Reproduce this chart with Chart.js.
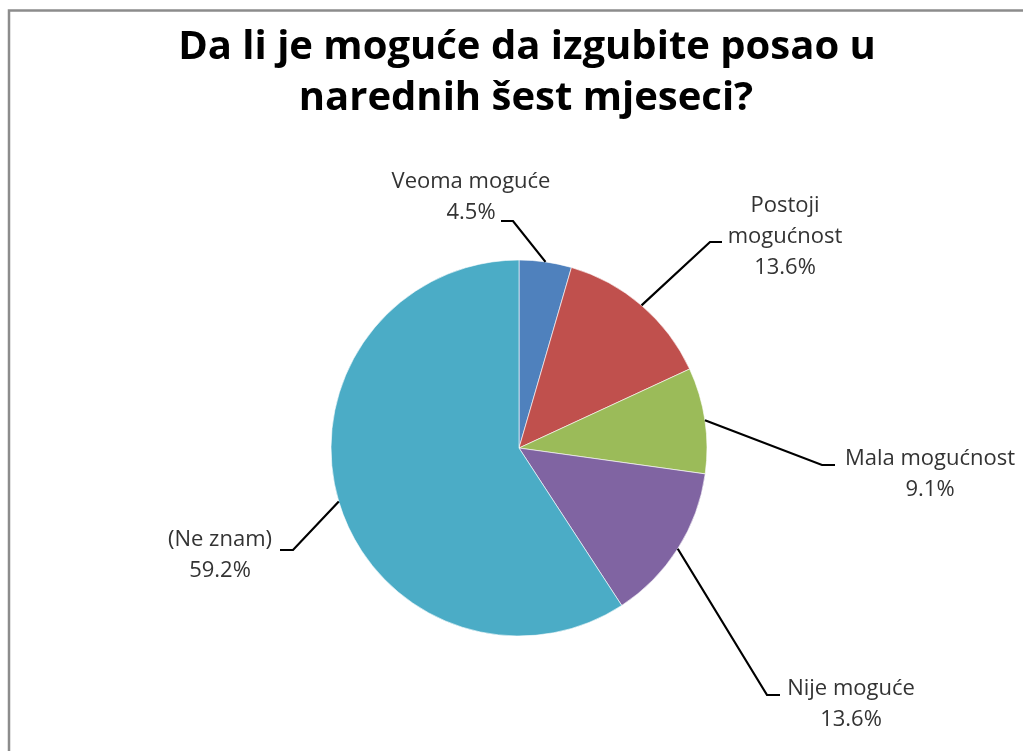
<!DOCTYPE html>
<html>
<head>
<meta charset="utf-8">
<title>Da li je moguće da izgubite posao u narednih šest mjeseci?</title>
<script src="https://cdn.jsdelivr.net/npm/chart.js@4.4.1/dist/chart.umd.min.js"></script>
<style>
    html, body { margin: 0; padding: 0; background: #ffffff; overflow: hidden; }
    canvas { display: block; }
</style>
</head>
<body>
<canvas id="pieChart" width="1023" height="751"></canvas>
<script>
// Chart data
const titleLines = ['Da li je moguće da izgubite posao u', 'narednih šest mjeseci?'];
const categories = ['Veoma moguće', ['Postoji', 'mogućnost'], 'Mala mogućnost', 'Nije moguće', '(Ne znam)'];
const percentages = [4.5, 13.6, 9.1, 13.6, 59.2];
const sliceColors = ['#4F81BD', '#C0504D', '#9BBB59', '#8064A2', '#4BACC6'];

// Where each data label sits: text centre x, first baseline,
// and the short horizontal end of its leader line
const labelSpots = [
    { tx: 471, ty: 188, ex: 513, hx: 501, ly: 221 },
    { tx: 785, ty: 212, ex: 710, hx: 722, ly: 242 },
    { tx: 930, ty: 465, ex: 822, hx: 835, ly: 465 },
    { tx: 851, ty: 695, ex: 767, hx: 780, ly: 695 },
    { tx: 220, ty: 546, ex: 293, hx: 280, ly: 550 }
];

const LABEL_FONT = '22px "Open Sans", sans-serif';
const LINE_GAP = 31;

// Outer frame and title
const framePlugin = {
    id: 'frame',
    beforeDraw(chart) {
        const ctx = chart.ctx;
        ctx.save();
        ctx.strokeStyle = '#8c8c8c';
        ctx.lineWidth = 2.5;
        ctx.strokeRect(9, 10.5, chart.width + 20, chart.height + 20);
        ctx.fillStyle = '#000000';
        ctx.font = 'bold 40px "Open Sans", sans-serif';
        ctx.textAlign = 'center';
        ctx.textBaseline = 'alphabetic';
        ctx.fillText(titleLines[0], 527, 59);
        ctx.fillText(titleLines[1], 526, 110);
        ctx.restore();
    }
};

// Data labels with leader lines
const leaderLabels = {
    id: 'leaderLabels',
    afterDatasetsDraw(chart) {
        const ctx = chart.ctx;
        const meta = chart.getDatasetMeta(0);
        ctx.save();
        meta.data.forEach((arc, i) => {
            const spot = labelSpots[i];
            const mid = (arc.startAngle + arc.endAngle) / 2;
            const px = arc.x + arc.outerRadius * Math.cos(mid);
            const py = arc.y + arc.outerRadius * Math.sin(mid);

            ctx.strokeStyle = '#000000';
            ctx.lineWidth = 2.2;
            ctx.beginPath();
            ctx.moveTo(px, py);
            ctx.lineTo(spot.ex, spot.ly);
            ctx.lineTo(spot.hx, spot.ly);
            ctx.stroke();

            const name = chart.data.labels[i];
            const lines = (Array.isArray(name) ? name : [name]).concat(percentages[i].toFixed(1) + '%');
            ctx.fillStyle = '#333333';
            ctx.font = LABEL_FONT;
            ctx.textAlign = 'center';
            ctx.textBaseline = 'alphabetic';
            lines.forEach((line, j) => {
                ctx.fillText(line, spot.tx, spot.ty + j * LINE_GAP);
            });
        });
        ctx.restore();
    }
};

new Chart(document.getElementById('pieChart').getContext('2d'), {
    type: 'pie',
    data: {
        labels: categories,
        datasets: [{
            data: percentages,
            backgroundColor: sliceColors,
            borderColor: 'rgba(255,255,255,0.6)',
            borderWidth: 1
        }]
    },
    options: {
        responsive: false,
        animation: false,
        radius: 188,
        layout: {
            padding: { left: 331, right: 316, top: 260, bottom: 115 }
        },
        plugins: {
            legend: { display: false },
            tooltip: { enabled: false },
            title: { display: false }
        }
    },
    plugins: [framePlugin, leaderLabels]
});
</script>
</body>
</html>
